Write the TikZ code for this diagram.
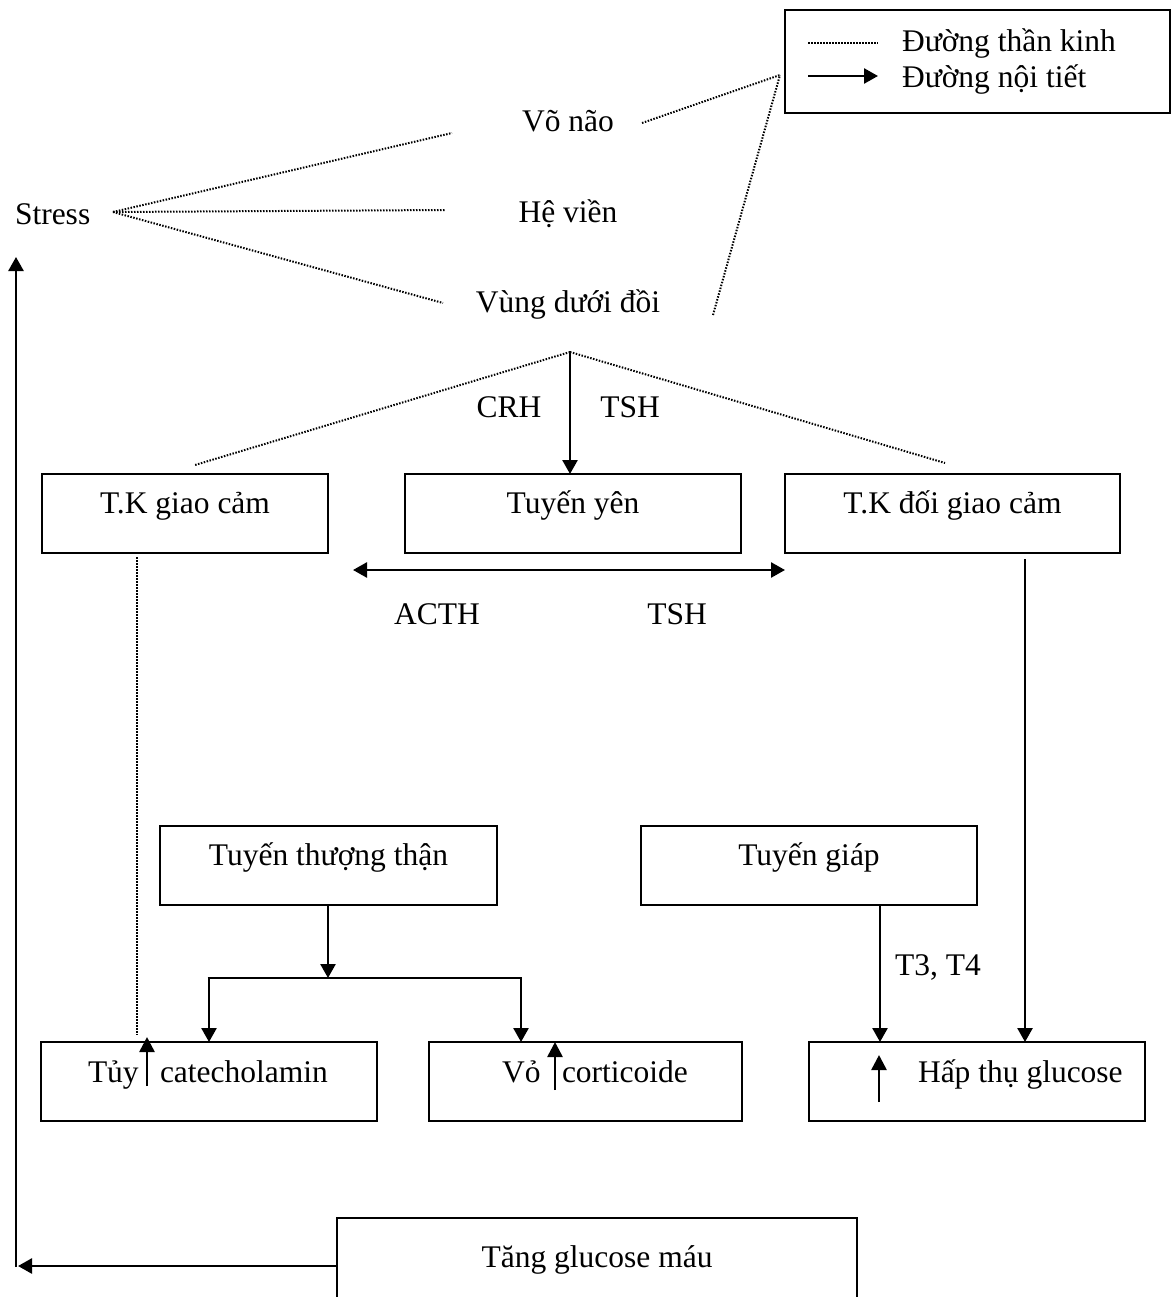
\documentclass[tikz,border=0pt]{standalone}
\usepackage{fontspec}
\setmainfont{Liberation Serif}
\usetikzlibrary{arrows.meta}
\tikzset{
  every node/.style={font=\fontsize{31.5pt}{38pt}\selectfont, inner sep=0pt, outer sep=0pt},
  txt/.style={anchor=base},
  box/.style={draw, line width=2pt, anchor=north, text height=39pt, text depth=40pt, inner ysep=0pt},
  emptybox/.style={draw, line width=2pt, anchor=north west, minimum height=79pt},
  endo/.style={line width=2.6pt, -{Triangle[length=14pt,width=15pt]}},
  endotwo/.style={line width=2.6pt, {Triangle[length=14pt,width=15pt]}-{Triangle[length=14pt,width=15pt]}},
  small/.style={line width=2.6pt, -{Triangle[length=15pt,width=15pt]}},
  nerve/.style={line width=2pt, dash pattern=on 1.5pt off 1.5pt},
  plain/.style={line width=2.6pt}
}
\begin{document}
\begin{tikzpicture}[x=1pt,y=-1pt]
\useasboundingbox[fill=white] (0,0) rectangle (1173,1297);

% legend
\node[draw, line width=2pt, anchor=north west, minimum width=385pt, minimum height=103pt] (legend) at (785,10) {};
\coordinate (ld1) at (808,43);
\coordinate (ld2) at (878,43);
\coordinate (la1) at (808,76);
\coordinate (la2) at (878,76);
\draw[nerve] (ld1) -- (ld2);
\draw[endo] (la1) -- (la2);
\node[anchor=base west] (lt1) at (902,52) {Đường thần kinh};
\node[anchor=base west] (lt2) at (902,88) {Đường nội tiết};

% top texts
\node[anchor=base west] (stress) at (15,225) {Stress};
\node[txt] (vonao) at (568,132) {Võ não};
\node[txt] (hevien) at (568,223) {Hệ viền};
\node[txt] (vungduoi) at (568,312) {Vùng dưới đồi};

\coordinate (sR) at (113,212);
\coordinate (voL) at (452,133);
\coordinate (hvL) at (445,210);
\coordinate (vdL) at (443,303);
\draw[nerve] (sR) -- (voL);
\draw[nerve] (sR) -- (hvL);
\draw[nerve] (sR) -- (vdL);

\coordinate (legL) at (780,75);
\coordinate (voR) at (642,123);
\coordinate (vdR) at (713,315);
\draw[nerve] (voR) -- (legL);
\draw[nerve] (vdR) -- (legL);

% hypothalamus branching
\coordinate (apex) at (570,352);
\coordinate (gcTop) at (195,465);
\coordinate (dgcTop) at (945,463);
\draw[nerve] (apex) -- (gcTop);
\draw[nerve] (apex) -- (dgcTop);

\node[txt] (crh) at (509,417) {CRH};
\node[txt] (tsh1) at (630,417) {TSH};

% row of boxes
\node[box, minimum width=286pt] (tkgc) at (185,474) {T.K giao cảm};
\node[box, minimum width=336pt] (ty) at (573,474) {Tuyến yên};
\node[box, minimum width=335pt] (tkdgc) at (952.5,474) {T.K đối giao cảm};

\draw[endo] (apex) -- (apex |- ty.north);

\coordinate (dL) at (353,570);
\coordinate (dR) at (785,570);
\draw[endotwo] (dL) -- (dR);
\node[txt] (acth) at (437,624) {ACTH};
\node[txt] (tsh2) at (677,624) {TSH};

% middle boxes
\node[box, minimum width=337pt] (ttt) at (328.5,826) {Tuyến thượng thận};
\node[box, minimum width=336pt] (tg) at (809,826) {Tuyến giáp};

% bottom boxes
\node[emptybox, minimum width=336pt] (tuy) at (41,1042) {};
\node[emptybox, minimum width=313pt] (vo) at (429,1042) {};
\node[emptybox, minimum width=336pt] (hap) at (809,1042) {};

\node[anchor=base west] (tuyT) at (88,1082) {Tủy};
\node[anchor=base west] (catT) at (160,1082) {catecholamin};
\coordinate (tuyA1) at (147,1086);
\coordinate (tuyA2) at (147,1037);
\draw[small] (tuyA1) -- (tuyA2);

\node[anchor=base west] (voT) at (502,1082) {Vỏ};
\node[anchor=base west] (corT) at (562,1082) {corticoide};
\coordinate (voA1) at (555,1090);
\coordinate (voA2) at (555,1042);
\draw[small] (voA1) -- (voA2);

\node[anchor=base west] (hapT) at (918,1082) {Hấp thụ glucose};
\coordinate (hapA1) at (879,1102);
\coordinate (hapA2) at (879,1055);
\draw[small] (hapA1) -- (hapA2);

% nerve line down from T.K giao cam
\coordinate (gcB) at (137,557);
\coordinate (gcE) at (137,1035);
\draw[nerve] (gcB) -- (gcE);

% adrenal branching
\coordinate (br) at (328,978);
\coordinate (brL) at (209,978);
\coordinate (brR) at (521,978);
\draw[endo] (ttt.south -| br) -- (br);
\draw[plain] ([xshift=-1.3pt]brL) -- ([xshift=1.3pt]brR);
\draw[endo] (brL) -- (brL |- tuy.north);
\draw[endo] (brR) -- (brR |- vo.north);

% thyroid
\coordinate (tgA) at (880,906);
\draw[endo] (tgA) -- (tgA |- hap.north);
\node[txt] (t34) at (938,975) {T3, T4};

\coordinate (dgcA) at (1025,559);
\draw[endo] (dgcA) -- (dgcA |- hap.north);

% bottom
\node[anchor=north west, minimum width=520pt, minimum height=100pt] (tang) at (337,1218) {};
\draw[line width=2pt] (tang.south west) -- (tang.north west) -- (tang.north east) -- (tang.south east);
\node[txt] (tangT) at (597,1267) {Tăng glucose máu};

\coordinate (fbH) at (18,1266);
\coordinate (fbC) at (16,1267);
\coordinate (fbT) at (16,257);
\draw[endo] (tang.west |- fbH) -- (fbH);
\draw[endo] (fbC) -- (fbT);
\end{tikzpicture}
\end{document}
